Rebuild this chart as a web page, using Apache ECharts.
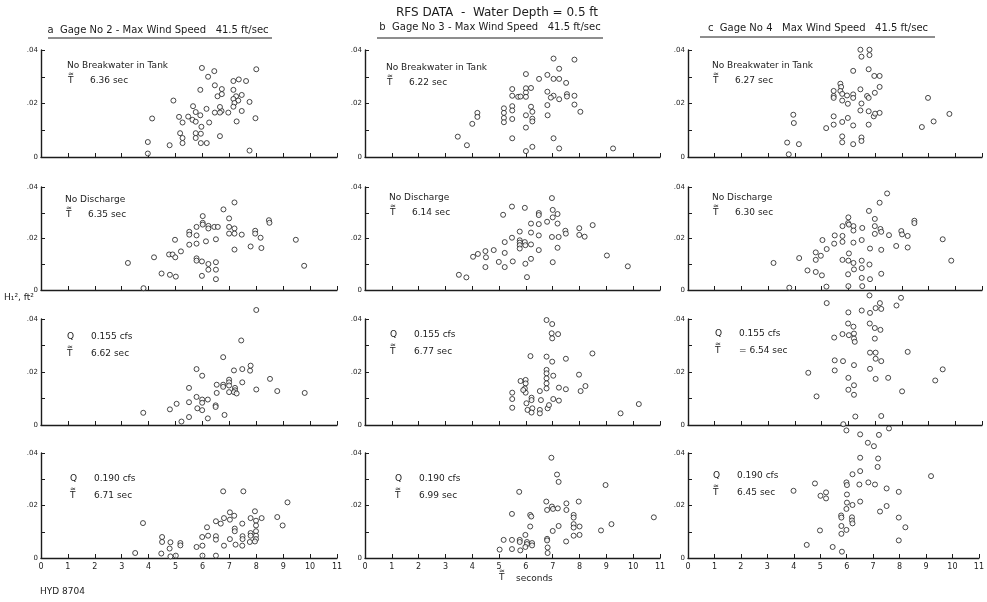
<!DOCTYPE html>
<html>
<head>
<meta charset="utf-8">
<script src="https://cdn.jsdelivr.net/npm/echarts@6/dist/echarts.min.js"></script>
<style>
  html, body { margin: 0; padding: 0; background: #fff; }
  #chart { width: 987px; height: 602px; }
</style>
</head>
<body>
<div id="chart"></div>
<script>
// RFS data, water depth 0.5 ft -- H1^2 (ft^2) against wave period T (sec)
// points are [T seconds, H^2 ft^2]

// row 1: no breakwater in tank
const gage2NoBreakwater = [[5.98,0.0333],[6.44,0.0321],[6.21,0.0300],[5.92,0.0251],[6.46,0.0268],[6.72,0.0254],[6.56,0.0227],[6.72,0.0235],[7.15,0.0284],[7.35,0.0290],[7.62,0.0284],[8.00,0.0328],[7.15,0.0251],[7.25,0.0227],[7.46,0.0232],[7.15,0.0217],[7.33,0.0211],[7.19,0.0202],[7.75,0.0206],[7.15,0.0188],[7.46,0.0172],[6.96,0.0166],[6.71,0.0172],[6.46,0.0166],[6.65,0.0166],[6.65,0.0187],[6.15,0.0180],[5.65,0.0190],[5.75,0.0168],[5.92,0.0156],[5.47,0.0151],[5.13,0.0150],[5.26,0.0129],[5.63,0.0139],[5.75,0.0132],[6.25,0.0129],[5.96,0.0113],[4.92,0.0211],[4.13,0.0144],[7.27,0.0133],[7.97,0.0145],[5.17,0.0089],[5.26,0.0071],[5.26,0.0052],[5.75,0.0089],[5.94,0.0087],[5.75,0.0071],[6.65,0.0078],[5.94,0.0052],[6.16,0.0052],[4.78,0.0044],[3.97,0.0056],[3.97,0.0013],[7.75,0.0024]];
const gage3NoBreakwater = [[7.03,0.0368],[7.81,0.0364],[7.24,0.0330],[6.00,0.0310],[6.49,0.0292],[6.80,0.0307],[7.03,0.0292],[7.24,0.0292],[7.50,0.0277],[5.49,0.0254],[6.00,0.0257],[6.19,0.0258],[6.00,0.0241],[5.49,0.0229],[5.71,0.0225],[5.80,0.0226],[6.00,0.0225],[6.80,0.0244],[7.03,0.0229],[6.93,0.0222],[7.24,0.0216],[7.53,0.0235],[7.53,0.0226],[7.81,0.0229],[6.80,0.0194],[7.81,0.0196],[8.03,0.0169],[5.49,0.0190],[6.19,0.0188],[5.18,0.0182],[5.18,0.0165],[5.18,0.0146],[5.18,0.0130],[5.49,0.0174],[5.49,0.0142],[6.00,0.0156],[6.24,0.0169],[6.24,0.0143],[6.24,0.0133],[6.81,0.0156],[6.00,0.0110],[4.19,0.0165],[4.19,0.0150],[4.00,0.0124],[3.46,0.0076],[3.80,0.0044],[5.49,0.0070],[7.03,0.0070],[6.24,0.0038],[6.00,0.0022],[7.24,0.0032],[9.25,0.0032]];
const gage4NoBreakwater = [[6.45,0.0401],[6.79,0.0401],[6.49,0.0375],[6.79,0.0381],[6.18,0.0322],[6.76,0.0328],[6.97,0.0303],[7.17,0.0303],[5.70,0.0274],[5.73,0.0262],[5.45,0.0247],[5.70,0.0247],[5.45,0.0228],[5.45,0.0221],[5.77,0.0236],[5.95,0.0230],[6.18,0.0234],[6.18,0.0221],[6.45,0.0253],[6.70,0.0228],[6.76,0.0221],[6.99,0.0240],[7.17,0.0262],[5.77,0.0211],[5.98,0.0199],[6.49,0.0200],[6.45,0.0174],[6.76,0.0171],[6.95,0.0152],[7.00,0.0162],[7.17,0.0165],[5.45,0.0152],[5.98,0.0146],[5.77,0.0131],[5.45,0.0121],[6.18,0.0118],[6.76,0.0121],[5.17,0.0108],[5.77,0.0077],[5.77,0.0055],[6.18,0.0048],[6.49,0.0073],[6.49,0.0060],[3.94,0.0158],[3.96,0.0127],[3.71,0.0054],[4.15,0.0048],[3.77,0.0010],[8.98,0.0221],[9.19,0.0133],[8.75,0.0112],[9.78,0.0161]];

// row 2: no discharge
const gage2NoDischarge = [[7.19,0.0340],[6.78,0.0313],[6.01,0.0287],[6.99,0.0278],[6.01,0.0261],[6.01,0.0254],[6.22,0.0249],[6.22,0.0239],[6.44,0.0245],[6.57,0.0245],[5.78,0.0245],[5.51,0.0226],[5.51,0.0215],[5.78,0.0212],[6.99,0.0245],[6.99,0.0219],[7.19,0.0239],[7.19,0.0219],[7.46,0.0215],[7.96,0.0230],[7.96,0.0219],[8.16,0.0203],[8.47,0.0271],[8.49,0.0261],[9.47,0.0195],[4.98,0.0195],[6.13,0.0189],[6.50,0.0197],[5.51,0.0176],[5.78,0.0180],[5.20,0.0150],[7.19,0.0157],[7.79,0.0169],[8.19,0.0163],[4.20,0.0127],[4.76,0.0138],[4.89,0.0138],[4.99,0.0127],[5.78,0.0123],[5.78,0.0114],[5.98,0.0111],[6.22,0.0101],[6.50,0.0108],[6.22,0.0079],[6.50,0.0079],[6.50,0.0042],[5.98,0.0055],[4.48,0.0064],[4.79,0.0059],[5.01,0.0052],[3.23,0.0105],[3.81,0.0007],[9.78,0.0094]];
const gage3NoDischarge = [[6.97,0.0357],[5.48,0.0324],[5.96,0.0319],[5.15,0.0292],[6.48,0.0299],[6.48,0.0291],[7.00,0.0311],[7.18,0.0295],[7.00,0.0282],[6.79,0.0265],[6.19,0.0258],[6.48,0.0256],[7.18,0.0258],[7.99,0.0240],[8.49,0.0252],[7.47,0.0230],[7.49,0.0219],[7.99,0.0214],[8.19,0.0207],[5.77,0.0227],[6.19,0.0223],[6.48,0.0212],[5.48,0.0203],[5.77,0.0193],[5.96,0.0186],[5.77,0.0184],[5.77,0.0174],[5.77,0.0161],[5.98,0.0174],[6.19,0.0177],[6.97,0.0206],[7.22,0.0206],[7.18,0.0164],[5.21,0.0186],[5.21,0.0144],[6.48,0.0155],[4.80,0.0155],[4.49,0.0151],[4.51,0.0127],[4.21,0.0140],[4.03,0.0129],[4.49,0.0089],[4.99,0.0109],[5.21,0.0089],[5.51,0.0111],[5.98,0.0102],[6.19,0.0121],[7.00,0.0108],[6.04,0.0050],[3.50,0.0059],[3.78,0.0049],[9.02,0.0134],[9.80,0.0092]];
const gage4NoDischarge = [[7.45,0.0375],[7.17,0.0339],[6.77,0.0307],[6.00,0.0282],[6.99,0.0276],[5.99,0.0260],[6.02,0.0254],[5.78,0.0248],[6.19,0.0248],[6.19,0.0231],[6.52,0.0241],[6.99,0.0248],[7.20,0.0237],[7.23,0.0226],[7.52,0.0213],[6.99,0.0218],[7.98,0.0229],[8.01,0.0216],[8.22,0.0210],[8.47,0.0269],[8.47,0.0260],[9.53,0.0197],[9.85,0.0114],[5.49,0.0212],[5.78,0.0210],[5.78,0.0187],[5.47,0.0180],[5.03,0.0194],[6.19,0.0184],[6.50,0.0194],[5.19,0.0159],[6.81,0.0161],[7.23,0.0156],[7.79,0.0171],[8.22,0.0165],[4.78,0.0146],[4.97,0.0133],[4.78,0.0117],[6.02,0.0142],[4.16,0.0124],[3.20,0.0105],[5.78,0.0117],[6.00,0.0114],[6.19,0.0105],[6.50,0.0114],[6.79,0.0099],[6.50,0.0085],[6.21,0.0080],[4.47,0.0076],[4.78,0.0070],[5.01,0.0057],[5.99,0.0061],[7.23,0.0063],[6.50,0.0047],[6.81,0.0042],[3.79,0.0009],[5.18,0.0013],[6.00,0.0015],[6.52,0.0015]];

// row 3: Q = 0.155 cfs
const gage2Q155 = [[8.00,0.0434],[7.44,0.0319],[6.77,0.0256],[5.78,0.0211],[5.99,0.0186],[7.17,0.0206],[7.48,0.0211],[7.77,0.0205],[7.79,0.0224],[7.48,0.0161],[6.99,0.0171],[6.99,0.0161],[6.77,0.0152],[6.77,0.0144],[6.53,0.0152],[6.99,0.0149],[7.21,0.0140],[7.21,0.0131],[6.99,0.0124],[7.17,0.0124],[7.27,0.0119],[8.00,0.0134],[8.51,0.0174],[8.78,0.0128],[9.80,0.0121],[6.53,0.0121],[5.50,0.0140],[5.78,0.0106],[5.99,0.0096],[6.20,0.0096],[5.99,0.0084],[5.50,0.0086],[5.81,0.0063],[5.99,0.0056],[6.49,0.0074],[6.49,0.0068],[5.04,0.0080],[4.79,0.0059],[3.80,0.0046],[5.50,0.0030],[6.20,0.0025],[5.22,0.0013],[6.82,0.0038]];
const gage3Q155 = [[6.77,0.0396],[6.98,0.0381],[6.96,0.0346],[7.20,0.0343],[6.98,0.0327],[6.17,0.0260],[6.77,0.0258],[6.98,0.0239],[7.49,0.0250],[8.48,0.0270],[6.77,0.0208],[6.77,0.0195],[6.77,0.0176],[7.02,0.0186],[7.98,0.0190],[5.80,0.0166],[5.99,0.0170],[5.99,0.0157],[5.96,0.0138],[5.99,0.0122],[5.90,0.0132],[6.77,0.0157],[6.77,0.0138],[7.23,0.0141],[7.49,0.0135],[8.22,0.0147],[8.04,0.0128],[5.49,0.0122],[5.49,0.0098],[6.21,0.0103],[6.52,0.0128],[6.56,0.0094],[7.02,0.0098],[7.23,0.0092],[6.02,0.0082],[6.21,0.0094],[5.49,0.0065],[6.06,0.0057],[6.24,0.0063],[6.21,0.0047],[6.52,0.0057],[6.52,0.0044],[6.81,0.0063],[6.86,0.0075],[9.53,0.0044],[10.21,0.0079]];
const gage4Q155 = [[6.79,0.0489],[7.97,0.0480],[5.19,0.0460],[7.18,0.0460],[7.80,0.0451],[7.02,0.0441],[7.23,0.0438],[6.50,0.0432],[6.81,0.0423],[6.00,0.0425],[5.99,0.0383],[6.19,0.0371],[6.80,0.0383],[6.99,0.0366],[7.20,0.0359],[5.78,0.0343],[6.02,0.0339],[6.21,0.0345],[6.21,0.0326],[6.24,0.0314],[5.47,0.0330],[6.99,0.0326],[6.81,0.0273],[7.02,0.0273],[8.22,0.0276],[7.02,0.0250],[7.23,0.0241],[5.49,0.0244],[5.80,0.0241],[6.21,0.0226],[6.81,0.0212],[5.49,0.0206],[9.53,0.0210],[4.50,0.0197],[6.00,0.0178],[7.02,0.0174],[7.49,0.0178],[9.25,0.0168],[6.21,0.0150],[6.00,0.0133],[6.21,0.0114],[8.01,0.0127],[4.81,0.0108],[6.26,0.0032],[7.23,0.0034],[5.81,0.0003],[7.52,-0.0013]];

// row 4: Q = 0.190 cfs
const gage2Q190 = [[6.77,0.0254],[7.52,0.0254],[9.16,0.0212],[7.95,0.0178],[7.02,0.0174],[7.18,0.0161],[7.02,0.0146],[6.80,0.0152],[6.50,0.0140],[6.68,0.0131],[7.48,0.0131],[7.79,0.0152],[7.99,0.0142],[8.20,0.0152],[7.99,0.0124],[8.78,0.0156],[8.98,0.0124],[6.17,0.0117],[7.20,0.0112],[7.20,0.0102],[7.99,0.0102],[7.79,0.0095],[7.79,0.0085],[7.99,0.0085],[7.49,0.0083],[7.49,0.0072],[7.99,0.0072],[7.02,0.0072],[7.95,0.0063],[7.76,0.0061],[6.50,0.0083],[6.50,0.0070],[6.21,0.0085],[5.99,0.0080],[6.00,0.0047],[5.78,0.0042],[6.80,0.0047],[7.23,0.0051],[7.48,0.0047],[3.79,0.0133],[4.50,0.0080],[4.50,0.0061],[4.81,0.0060],[4.78,0.0036],[5.18,0.0057],[5.18,0.0048],[3.50,0.0019],[4.47,0.0017],[4.81,0.0006],[5.01,0.0009],[6.00,0.0009],[6.50,0.0009]];
const gage3Q190 = [[6.95,0.0382],[7.16,0.0318],[7.22,0.0290],[8.97,0.0278],[5.75,0.0252],[6.76,0.0215],[7.51,0.0208],[7.97,0.0215],[6.97,0.0196],[7.01,0.0187],[7.19,0.0189],[6.79,0.0183],[7.51,0.0183],[5.48,0.0168],[6.16,0.0164],[6.20,0.0158],[7.78,0.0164],[7.78,0.0154],[6.16,0.0120],[7.22,0.0122],[7.78,0.0129],[7.78,0.0116],[8.00,0.0120],[9.19,0.0129],[7.00,0.0103],[8.80,0.0105],[5.98,0.0088],[7.78,0.0085],[8.00,0.0088],[5.17,0.0069],[5.48,0.0069],[5.77,0.0069],[5.77,0.0061],[6.04,0.0061],[6.23,0.0057],[6.04,0.0053],[6.23,0.0048],[5.98,0.0042],[6.79,0.0073],[6.79,0.0067],[7.50,0.0063],[5.02,0.0032],[5.48,0.0034],[5.79,0.0029],[6.81,0.0040],[6.81,0.0019],[10.77,0.0155]];
const gage4Q190 = [[5.99,0.0486],[6.51,0.0471],[7.22,0.0469],[6.80,0.0439],[7.03,0.0426],[6.51,0.0382],[7.19,0.0379],[7.17,0.0347],[6.51,0.0331],[6.22,0.0319],[9.19,0.0312],[4.80,0.0284],[5.99,0.0288],[6.01,0.0278],[6.48,0.0280],[6.82,0.0288],[7.07,0.0280],[7.51,0.0265],[7.97,0.0252],[3.99,0.0256],[5.22,0.0250],[5.01,0.0237],[5.22,0.0227],[6.01,0.0242],[6.01,0.0211],[6.22,0.0202],[6.51,0.0215],[5.99,0.0187],[7.51,0.0198],[7.26,0.0177],[5.79,0.0162],[5.80,0.0154],[6.20,0.0155],[6.20,0.0143],[6.22,0.0132],[7.97,0.0154],[5.80,0.0122],[8.22,0.0117],[5.99,0.0107],[4.99,0.0105],[5.80,0.0092],[7.97,0.0067],[4.49,0.0050],[5.47,0.0042],[5.82,0.0024]];

// tick labels
const xTicks = [0, 1, 2, 3, 4, 5, 6, 7, 8, 9, 10, 11];
const yTickLabels = { 0: '0', 0.02: '.02', 0.04: '.04' };

// panel layout (pixels)
const colLeft = [41, 365, 688];
const colRight = [337, 660, 982];
const rowTop = [50, 187, 319, 453];
const rowBottom = [157, 290, 425, 558];

const panelData = [
  [gage2NoBreakwater, gage3NoBreakwater, gage4NoBreakwater],
  [gage2NoDischarge, gage3NoDischarge, gage4NoDischarge],
  [gage2Q155, gage3Q155, gage4Q155],
  [gage2Q190, gage3Q190, gage4Q190]
];

const ink = '#1c1c1c';
const fontFam = '"DejaVu Sans", sans-serif';

let grids = [], xAxes = [], yAxes = [], series = [];
panelData.forEach((row, r) => {
  row.forEach((pts, c) => {
    const i = grids.length;
    grids.push({
      left: colLeft[c], top: rowTop[r],
      width: colRight[c] - colLeft[c], height: rowBottom[r] - rowTop[r]
    });
    xAxes.push({
      gridIndex: i, type: 'value', min: 0, max: 11, interval: 1,
      axisLine: { lineStyle: { color: ink, width: 1.4 } },
      axisTick: { show: true, inside: true, length: 4, lineStyle: { color: ink } },
      axisLabel: {
        show: r === 3, color: ink, fontSize: 8, fontFamily: fontFam, margin: 5,
        formatter: v => xTicks.includes(v) ? String(v) : ''
      },
      splitLine: { show: false }
    });
    yAxes.push({
      gridIndex: i, type: 'value', min: 0, max: 0.04, interval: 0.01,
      axisLine: { show: true, lineStyle: { color: ink, width: 1.4 } },
      axisTick: { show: true, inside: true, length: 4, lineStyle: { color: ink } },
      axisLabel: {
        color: ink, fontSize: 7, fontFamily: fontFam, margin: 3,
        formatter: v => yTickLabels[Math.round(v * 100) / 100] || ''
      },
      splitLine: { show: false }
    });
    series.push({
      type: 'scatter', xAxisIndex: i, yAxisIndex: i, data: pts,
      symbol: 'circle', symbolSize: 5, clip: false,
      itemStyle: { color: '#fff', borderColor: ink, borderWidth: 1 },
      silent: true
    });
  });
});

// text helpers
function txt(text, x, y, size, extra) {
  return Object.assign({
    type: 'text', x: x, y: y,
    style: { text: text, font: size + 'px ' + fontFam, fill: ink, verticalAlign: 'middle' }
  }, extra || {});
}
function tildeT(x, y) {
  return [txt('\u2248', x, y - 7, 7), txt('T', x, y, 9)];
}
function note(x, y, line1, value, twoLine) {
  let items = [];
  if (twoLine) {
    items.push(txt('Q', x, y, 9));
    items.push(txt(line1, x + 24, y, 9));
    items = items.concat(tildeT(x, y + 17));
    items.push(txt(value, x + 24, y + 17, 9));
  } else {
    items.push(txt(line1, x, y, 9));
    items = items.concat(tildeT(x + 1, y + 15));
    items.push(txt(value, x + 23, y + 15, 9));
  }
  return items;
}

let graphic = [
  { type: 'text', x: 497, y: 13, style: { text: 'RFS DATA  -  Water Depth = 0.5 ft', font: '12px ' + fontFam, fill: ink, align: 'center', verticalAlign: 'middle' } },
  { type: 'text', x: 158, y: 30, style: { text: 'a  Gage No 2 - Max Wind Speed   41.5 ft/sec', font: '10px ' + fontFam, fill: ink, align: 'center', verticalAlign: 'middle' } },
  { type: 'text', x: 490, y: 27, style: { text: 'b  Gage No 3 - Max Wind Speed   41.5 ft/sec', font: '10px ' + fontFam, fill: ink, align: 'center', verticalAlign: 'middle' } },
  { type: 'text', x: 818, y: 28, style: { text: 'c  Gage No 4   Max Wind Speed   41.5 ft/sec', font: '10px ' + fontFam, fill: ink, align: 'center', verticalAlign: 'middle' } },
  { type: 'line', shape: { x1: 48, y1: 38, x2: 272, y2: 38 }, style: { stroke: ink, lineWidth: 1 } },
  { type: 'line', shape: { x1: 377, y1: 38, x2: 603, y2: 38 }, style: { stroke: ink, lineWidth: 1 } },
  { type: 'line', shape: { x1: 700, y1: 37, x2: 935, y2: 37 }, style: { stroke: ink, lineWidth: 1 } },
  { type: 'text', x: 4, y: 298, style: { text: 'H\u2081\u00B2, ft\u00B2', font: '9px ' + fontFam, fill: ink, verticalAlign: 'middle' } },
  txt('\u2248', 499, 571, 7), txt('T', 499, 578, 9), txt('seconds', 516, 579, 9),
  txt('HYD 8704', 40, 592, 9)
];

graphic = graphic
  .concat(note(67, 66, 'No Breakwater in Tank', '6.36 sec'))
  .concat(note(386, 68, 'No Breakwater in Tank', '6.22 sec'))
  .concat(note(712, 66, 'No Breakwater in Tank', '6.27 sec'))
  .concat(note(65, 200, 'No Discharge', '6.35 sec'))
  .concat(note(389, 198, 'No Discharge', '6.14 sec'))
  .concat(note(712, 198, 'No Discharge', '6.30 sec'))
  .concat(note(67, 337, '0.155 cfs', '6.62 sec', true))
  .concat(note(390, 335, '0.155 cfs', '6.77 sec', true))
  .concat(note(715, 334, '0.155 cfs', '= 6.54 sec', true))
  .concat(note(70, 479, '0.190 cfs', '6.71 sec', true))
  .concat(note(395, 479, '0.190 cfs', '6.99 sec', true))
  .concat(note(713, 476, '0.190 cfs', '6.45 sec', true));

const chart = echarts.init(document.getElementById('chart'), null, { renderer: 'canvas' });
chart.setOption({
  backgroundColor: '#fff',
  animation: false,
  grid: grids,
  xAxis: xAxes,
  yAxis: yAxes,
  series: series,
  graphic: graphic
});
</script>
</body>
</html>
